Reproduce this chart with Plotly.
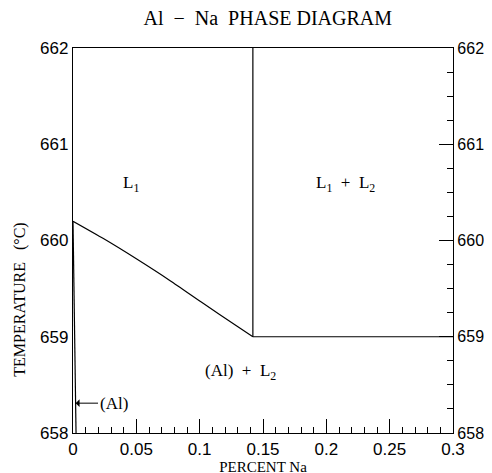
import plotly.graph_objects as go

# Liquidus (L1 -> (Al)+L2)
liq_x = [0.0, 0.024, 0.050, 0.077, 0.103, 0.129, 0.142]
liq_y = [660.20, 660.02, 659.81, 659.58, 659.345, 659.115, 659.0]
# Solvus / solidus of (Al)
sol_x = [0.0, 0.0024]
sol_y = [660.20, 658.0]
# Monotectic vertical and horizontal
mono_x = [0.142, 0.142]
mono_y = [659.0, 662.0]
hor_x = [0.142, 0.3]
hor_y = [659.0, 659.0]

x_ticks = [0, 0.05, 0.1, 0.15, 0.2, 0.25, 0.3]
x_labels = ["0", "0.05", "0.1", "0.15", "0.2", "0.25", "0.3"]
y_ticks = [658, 659, 660, 661, 662]

labels = [
    (0.046, 660.59, "L<sub>1</sub>"),
    (0.215, 660.59, "L<sub>1</sub>  +  L<sub>2</sub>"),
    (0.132, 658.63, "(Al)  +  L<sub>2</sub>"),
]

serif = "Liberation Serif, Times New Roman, serif"
sans = "Liberation Sans, Arial, sans-serif"
lw = 1.2

fig = go.Figure()
fig.add_trace(go.Scatter(x=liq_x, y=liq_y, mode="lines",
                         line=dict(color="black", width=lw, shape="spline", smoothing=0.6),
                         showlegend=False, hoverinfo="skip"))
for xs, ys in [(sol_x, sol_y), (mono_x, mono_y), (hor_x, hor_y)]:
    fig.add_trace(go.Scatter(x=xs, y=ys, mode="lines",
                             line=dict(color="black", width=lw), showlegend=False,
                             hoverinfo="skip"))
# dummy trace for right y axis
fig.add_trace(go.Scatter(x=[0.3], y=[658], yaxis="y2", mode="markers",
                         marker=dict(opacity=0), showlegend=False, hoverinfo="skip"))

for x, y, t in labels:
    fig.add_annotation(x=x, y=y, text=t, showarrow=False,
                       font=dict(family=serif, size=17, color="black"))

fig.add_annotation(x=0.0021, y=658.31, ax=0.032, ay=658.31, axref="x", ayref="y",
                   text="(Al)", showarrow=True, arrowhead=1, arrowsize=1.3,
                   arrowwidth=1, arrowcolor="black", standoff=0,
                   font=dict(family=serif, size=17, color="black"))

# y-axis title (placed as in the reference, below the axis centre)
fig.add_annotation(xref="paper", yref="paper", x=-0.138, y=0.345,
                   text="TEMPERATURE   (°C)", textangle=-90, showarrow=False,
                   xanchor="center", yanchor="middle",
                   font=dict(family=serif, size=16, color="black"))

fig.update_layout(
    width=492, height=473,
    margin=dict(l=65, r=47, t=40, b=48, autoexpand=False),
    paper_bgcolor="white", plot_bgcolor="white",
    title=dict(text="Al  −  Na  PHASE DIAGRAM", x=0.528, xanchor="center",
               y=0.979, yanchor="middle",
               font=dict(family=serif, size=20, color="black")),
    xaxis=dict(range=[0, 0.3], tickvals=x_ticks, ticktext=x_labels,
               ticks="inside", ticklen=14, tickwidth=1, tickcolor="black",
               minor=dict(dtick=0.01, ticks="inside", ticklen=6, tickcolor="black", tickwidth=1),
               showline=True, linecolor="black", linewidth=1.3, mirror=True,
               showgrid=False, zeroline=False, automargin=False,
               tickfont=dict(family=sans, size=17, color="black"),
               title=dict(text="PERCENT Na", font=dict(family=serif, size=15, color="black"),
                          standoff=2)),
    yaxis=dict(range=[658, 662], tickvals=y_ticks, ticks="",
               showline=True, linecolor="black", linewidth=1.3,
               showgrid=False, zeroline=False, automargin=False,
               tickfont=dict(family=sans, size=17, color="black")),
    yaxis2=dict(range=[658, 662], tickvals=y_ticks, overlaying="y", side="right",
                ticks="inside", ticklen=14, tickwidth=1, tickcolor="black",
                minor=dict(dtick=0.25, ticks="inside", ticklen=6, tickcolor="black", tickwidth=1),
                showline=True, linecolor="black", linewidth=1.3,
                showgrid=False, zeroline=False, automargin=False,
                tickfont=dict(family=sans, size=16, color="black")),
)

fig.write_html("out.html")
